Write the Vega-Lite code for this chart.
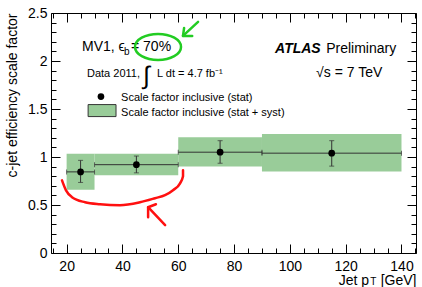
{
  "$schema": "https://vega.github.io/schema/vega-lite/v6.json",
  "width": 365,
  "height": 240,
  "autosize": {"type": "none"},
  "padding": {"left": 51, "top": 13, "right": 6, "bottom": 34},
  "background": "white",
  "config": {
    "view": {"stroke": "black", "strokeWidth": 1},
    "font": "Liberation Sans",
    "axis": {
      "domain": false, "grid": false, "tickColor": "black", "tickWidth": 1,
      "labelFont": "Liberation Sans", "labelFontSize": 14, "labelColor": "black",
      "labelOverlap": false, "labelFlush": false,
      "titleFont": "Liberation Sans", "titleFontSize": 14, "titleFontWeight": "normal", "titleColor": "black"
    }
  },
  "datasets": {
    "bins": [
      {"lo": 20, "hi": 30, "xc": 25, "y": 0.845, "slo": 0.735, "shi": 0.965, "ylo": 0.66, "yhi": 1.035},
      {"lo": 30, "hi": 60, "xc": 45, "y": 0.92, "slo": 0.835, "shi": 1.01, "ylo": 0.81, "yhi": 1.035},
      {"lo": 60, "hi": 90, "xc": 75, "y": 1.05, "slo": 0.935, "shi": 1.17, "ylo": 0.9, "yhi": 1.205},
      {"lo": 90, "hi": 140, "xc": 115, "y": 1.04, "slo": 0.905, "shi": 1.17, "ylo": 0.85, "yhi": 1.24}
    ],
    "legbox": [{"x": 27.7, "x2": 37.7, "y": 1.421, "y2": 1.546}],
    "legpt": [{"x": 32.3, "y": 1.629}],
    "text11": [
      {"x": 39.5, "y": 1.587, "t": "Scale factor inclusive (stat)"},
      {"x": 39.5, "y": 1.432, "t": "Scale factor inclusive (stat + syst)"},
      {"x": 27.3, "y": 1.836, "t": "Data 2011,"},
      {"x": 52.4, "y": 1.836, "t": "L dt = 4.7 fb⁻¹"}
    ],
    "text14": [
      {"x": 25.5, "y": 2.106, "t": "MV1, ϵ"},
      {"x": 43.07, "y": 2.106, "t": "= 70%"},
      {"x": 113.0, "y": 2.085, "t": "Preliminary"},
      {"x": 109.4, "y": 1.836, "t": "√s = 7 TeV"}
    ],
    "sub": [
      {"x": 40.56, "y": 2.065, "t": "b"},
      {"x": 128.8, "y": -0.335, "t": "T"}
    ],
    "atlas": [{"x": 94.7, "y": 2.085, "t": "ATLAS"}],
    "integral": [{"x": 47.5, "y": 1.76, "t": "∫"}],
    "redcurve": [
      {"x": 18.34, "y": 0.757}, {"x": 19.78, "y": 0.653}, {"x": 21.93, "y": 0.581},
      {"x": 26.59, "y": 0.529}, {"x": 31.96, "y": 0.508}, {"x": 39.13, "y": 0.498},
      {"x": 46.3, "y": 0.529}, {"x": 51.68, "y": 0.571}, {"x": 55.26, "y": 0.602},
      {"x": 58.13, "y": 0.654}, {"x": 60.64, "y": 0.726}, {"x": 61.71, "y": 0.799},
      {"x": 61.71, "y": 0.861}
    ],
    "redarrow": [
      {"part": "shaft", "o": 1, "x": 55.3, "y": 0.29},
      {"part": "shaft", "o": 2, "x": 49.2, "y": 0.477},
      {"part": "head", "o": 1, "x": 52.0, "y": 0.508},
      {"part": "head", "o": 2, "x": 49.2, "y": 0.477},
      {"part": "head", "o": 3, "x": 49.2, "y": 0.373}
    ],
    "greenarrow": [
      {"part": "shaft", "o": 1, "x": 67.1, "y": 2.407},
      {"part": "shaft", "o": 2, "x": 61.7, "y": 2.261},
      {"part": "head", "o": 1, "x": 62.1, "y": 2.344},
      {"part": "head", "o": 2, "x": 61.7, "y": 2.261},
      {"part": "head", "o": 3, "x": 65.0, "y": 2.261}
    ],
    "ellipse": [{"x": 52.75, "y": 2.147}]
  },
  "layer": [
    {
      "data": {"name": "bins"},
      "mark": {"type": "rect", "fill": "#99cc99"},
      "encoding": {
        "x": {"field": "lo", "type": "quantitative", "scale": {"domain": [14.4, 145.2], "nice": false, "zero": false},
          "axis": {"orient": "bottom",
            "values": [15,20,25,30,35,40,45,50,55,60,65,70,75,80,85,90,95,100,105,110,115,120,125,130,135,140,145],
            "labelExpr": "datum.value % 20 === 0 ? '' + datum.value : ''",
            "tickSize": {"condition": {"test": "datum.value % 20 === 0", "value": -9}, "value": -5},
            "labelPadding": 15,
            "title": "Jet p\u00a0\u00a0\u00a0[GeV]", "titleAnchor": "end", "titlePadding": -4}},
        "x2": {"field": "hi"},
        "y": {"field": "ylo", "type": "quantitative", "scale": {"domain": [0, 2.5], "nice": false, "zero": false},
          "axis": {"orient": "left",
            "values": [0,0.1,0.2,0.3,0.4,0.5,0.6,0.7,0.8,0.9,1,1.1,1.2,1.3,1.4,1.5,1.6,1.7,1.8,1.9,2,2.1,2.2,2.3,2.4,2.5],
            "labelExpr": "round(datum.value*10) % 5 === 0 ? '' + datum.value : ''",
            "tickSize": {"condition": {"test": "round(datum.value*10) % 5 === 0", "value": -9}, "value": -5},
            "labelPadding": 13,
            "title": "c-jet efficiency scale factor", "titleAnchor": "end", "titlePadding": 8}},
        "y2": {"field": "yhi"}
      }
    },
    {
      "data": {"name": "bins"},
      "mark": {"type": "rule", "color": "#333333", "strokeWidth": 1},
      "encoding": {
        "x": {"field": "lo", "type": "quantitative", "scale": {"domain": [14.4, 145.2], "nice": false, "zero": false},
          "axis": {"orient": "top", "labels": false, "title": null,
            "values": [15,20,25,30,35,40,45,50,55,60,65,70,75,80,85,90,95,100,105,110,115,120,125,130,135,140,145],
            "tickSize": {"condition": {"test": "datum.value % 20 === 0", "value": -9}, "value": -5}}},
        "x2": {"field": "hi"},
        "y": {"field": "y", "type": "quantitative", "scale": {"domain": [0, 2.5], "nice": false, "zero": false},
          "axis": {"orient": "right", "labels": false, "title": null,
            "values": [0,0.1,0.2,0.3,0.4,0.5,0.6,0.7,0.8,0.9,1,1.1,1.2,1.3,1.4,1.5,1.6,1.7,1.8,1.9,2,2.1,2.2,2.3,2.4,2.5],
            "tickSize": {"condition": {"test": "round(datum.value*10) % 5 === 0", "value": -9}, "value": -5}}}
      }
    },
    {
      "data": {"name": "bins"},
      "mark": {"type": "rule", "color": "#333333", "strokeWidth": 1},
      "encoding": {
        "x": {"field": "xc", "type": "quantitative", "scale": {"domain": [14.4, 145.2], "nice": false, "zero": false}, "axis": null},
        "y": {"field": "slo", "type": "quantitative", "scale": {"domain": [0, 2.5], "nice": false, "zero": false}, "axis": null},
        "y2": {"field": "shi"}
      }
    },
    {
      "data": {"name": "bins"},
      "mark": {"type": "tick", "orient": "horizontal", "color": "#333333", "size": 5, "thickness": 1},
      "encoding": {
        "x": {"field": "xc", "type": "quantitative", "scale": {"domain": [14.4, 145.2], "nice": false, "zero": false}, "axis": null},
        "y": {"field": "shi", "type": "quantitative", "scale": {"domain": [0, 2.5], "nice": false, "zero": false}, "axis": null}
      }
    },
    {
      "data": {"name": "bins"},
      "mark": {"type": "tick", "orient": "horizontal", "color": "#333333", "size": 5, "thickness": 1},
      "encoding": {
        "x": {"field": "xc", "type": "quantitative", "scale": {"domain": [14.4, 145.2], "nice": false, "zero": false}, "axis": null},
        "y": {"field": "slo", "type": "quantitative", "scale": {"domain": [0, 2.5], "nice": false, "zero": false}, "axis": null}
      }
    },
    {
      "data": {"name": "bins"},
      "mark": {"type": "tick", "orient": "vertical", "color": "#333333", "size": 5, "thickness": 1},
      "encoding": {
        "x": {"field": "lo", "type": "quantitative", "scale": {"domain": [14.4, 145.2], "nice": false, "zero": false}, "axis": null},
        "y": {"field": "y", "type": "quantitative", "scale": {"domain": [0, 2.5], "nice": false, "zero": false}, "axis": null}
      }
    },
    {
      "data": {"name": "bins"},
      "mark": {"type": "tick", "orient": "vertical", "color": "#333333", "size": 5, "thickness": 1},
      "encoding": {
        "x": {"field": "hi", "type": "quantitative", "scale": {"domain": [14.4, 145.2], "nice": false, "zero": false}, "axis": null},
        "y": {"field": "y", "type": "quantitative", "scale": {"domain": [0, 2.5], "nice": false, "zero": false}, "axis": null}
      }
    },
    {
      "data": {"name": "bins"},
      "mark": {"type": "point", "shape": "circle", "filled": true, "color": "black", "size": 45, "opacity": 1},
      "encoding": {
        "x": {"field": "xc", "type": "quantitative", "scale": {"domain": [14.4, 145.2], "nice": false, "zero": false}, "axis": null},
        "y": {"field": "y", "type": "quantitative", "scale": {"domain": [0, 2.5], "nice": false, "zero": false}, "axis": null}
      }
    },
    {
      "data": {"name": "legbox"},
      "mark": {"type": "rect", "fill": "#99cc99", "stroke": "#333333", "strokeWidth": 1},
      "encoding": {
        "x": {"field": "x", "type": "quantitative", "scale": {"domain": [14.4, 145.2], "nice": false, "zero": false}, "axis": null},
        "x2": {"field": "x2"},
        "y": {"field": "y", "type": "quantitative", "scale": {"domain": [0, 2.5], "nice": false, "zero": false}, "axis": null},
        "y2": {"field": "y2"}
      }
    },
    {
      "data": {"name": "legpt"},
      "mark": {"type": "point", "shape": "circle", "filled": true, "color": "black", "size": 45, "opacity": 1},
      "encoding": {
        "x": {"field": "x", "type": "quantitative", "scale": {"domain": [14.4, 145.2], "nice": false, "zero": false}, "axis": null},
        "y": {"field": "y", "type": "quantitative", "scale": {"domain": [0, 2.5], "nice": false, "zero": false}, "axis": null}
      }
    },
    {
      "data": {"name": "text11"},
      "mark": {"type": "text", "align": "left", "baseline": "alphabetic", "fontSize": 11, "font": "Liberation Sans", "color": "black"},
      "encoding": {
        "x": {"field": "x", "type": "quantitative", "scale": {"domain": [14.4, 145.2], "nice": false, "zero": false}, "axis": null},
        "y": {"field": "y", "type": "quantitative", "scale": {"domain": [0, 2.5], "nice": false, "zero": false}, "axis": null},
        "text": {"field": "t"}
      }
    },
    {
      "data": {"name": "text14"},
      "mark": {"type": "text", "align": "left", "baseline": "alphabetic", "fontSize": 14, "font": "Liberation Sans", "color": "black"},
      "encoding": {
        "x": {"field": "x", "type": "quantitative", "scale": {"domain": [14.4, 145.2], "nice": false, "zero": false}, "axis": null},
        "y": {"field": "y", "type": "quantitative", "scale": {"domain": [0, 2.5], "nice": false, "zero": false}, "axis": null},
        "text": {"field": "t"}
      }
    },
    {
      "data": {"name": "sub"},
      "mark": {"type": "text", "align": "left", "baseline": "alphabetic", "fontSize": 10, "font": "Liberation Sans", "color": "black"},
      "encoding": {
        "x": {"field": "x", "type": "quantitative", "scale": {"domain": [14.4, 145.2], "nice": false, "zero": false}, "axis": null},
        "y": {"field": "y", "type": "quantitative", "scale": {"domain": [0, 2.5], "nice": false, "zero": false}, "axis": null},
        "text": {"field": "t"}
      }
    },
    {
      "data": {"name": "atlas"},
      "mark": {"type": "text", "align": "left", "baseline": "alphabetic", "fontSize": 14, "font": "Liberation Sans", "fontWeight": "bold", "fontStyle": "italic", "color": "black"},
      "encoding": {
        "x": {"field": "x", "type": "quantitative", "scale": {"domain": [14.4, 145.2], "nice": false, "zero": false}, "axis": null},
        "y": {"field": "y", "type": "quantitative", "scale": {"domain": [0, 2.5], "nice": false, "zero": false}, "axis": null},
        "text": {"field": "t"}
      }
    },
    {
      "data": {"name": "integral"},
      "mark": {"type": "text", "align": "left", "baseline": "alphabetic", "fontSize": 25, "font": "Liberation Sans", "color": "black"},
      "encoding": {
        "x": {"field": "x", "type": "quantitative", "scale": {"domain": [14.4, 145.2], "nice": false, "zero": false}, "axis": null},
        "y": {"field": "y", "type": "quantitative", "scale": {"domain": [0, 2.5], "nice": false, "zero": false}, "axis": null},
        "text": {"field": "t"}
      }
    },
    {
      "data": {"name": "redcurve"},
      "mark": {"type": "line", "color": "#ff1010", "strokeWidth": 2.5, "interpolate": "monotone", "strokeCap": "round"},
      "encoding": {
        "x": {"field": "x", "type": "quantitative", "scale": {"domain": [14.4, 145.2], "nice": false, "zero": false}, "axis": null},
        "y": {"field": "y", "type": "quantitative", "scale": {"domain": [0, 2.5], "nice": false, "zero": false}, "axis": null},
        "order": {"field": "x"}
      }
    },
    {
      "data": {"name": "redarrow"},
      "mark": {"type": "line", "color": "#ff1010", "strokeWidth": 2.5, "strokeCap": "round", "strokeJoin": "round"},
      "encoding": {
        "x": {"field": "x", "type": "quantitative", "scale": {"domain": [14.4, 145.2], "nice": false, "zero": false}, "axis": null},
        "y": {"field": "y", "type": "quantitative", "scale": {"domain": [0, 2.5], "nice": false, "zero": false}, "axis": null},
        "detail": {"field": "part"},
        "order": {"field": "o"}
      }
    },
    {
      "data": {"name": "greenarrow"},
      "mark": {"type": "line", "color": "#22cc22", "strokeWidth": 2.5, "strokeCap": "round", "strokeJoin": "round"},
      "encoding": {
        "x": {"field": "x", "type": "quantitative", "scale": {"domain": [14.4, 145.2], "nice": false, "zero": false}, "axis": null},
        "y": {"field": "y", "type": "quantitative", "scale": {"domain": [0, 2.5], "nice": false, "zero": false}, "axis": null},
        "detail": {"field": "part"},
        "order": {"field": "o"}
      }
    },
    {
      "data": {"name": "ellipse"},
      "mark": {"type": "point", "filled": false, "stroke": "#22cc22", "strokeWidth": 2.5, "opacity": 1, "size": 2116,
        "shape": "M-1,0C-1,-0.312,-0.552,-0.565,0,-0.565C0.552,-0.565,1,-0.312,1,0C1,0.312,0.552,0.565,0,0.565C-0.552,0.565,-1,0.312,-1,0Z"},
      "encoding": {
        "x": {"field": "x", "type": "quantitative", "scale": {"domain": [14.4, 145.2], "nice": false, "zero": false}, "axis": null},
        "y": {"field": "y", "type": "quantitative", "scale": {"domain": [0, 2.5], "nice": false, "zero": false}, "axis": null}
      }
    }
  ],
  "resolve": {"axis": {"x": "independent", "y": "independent"}}
}
